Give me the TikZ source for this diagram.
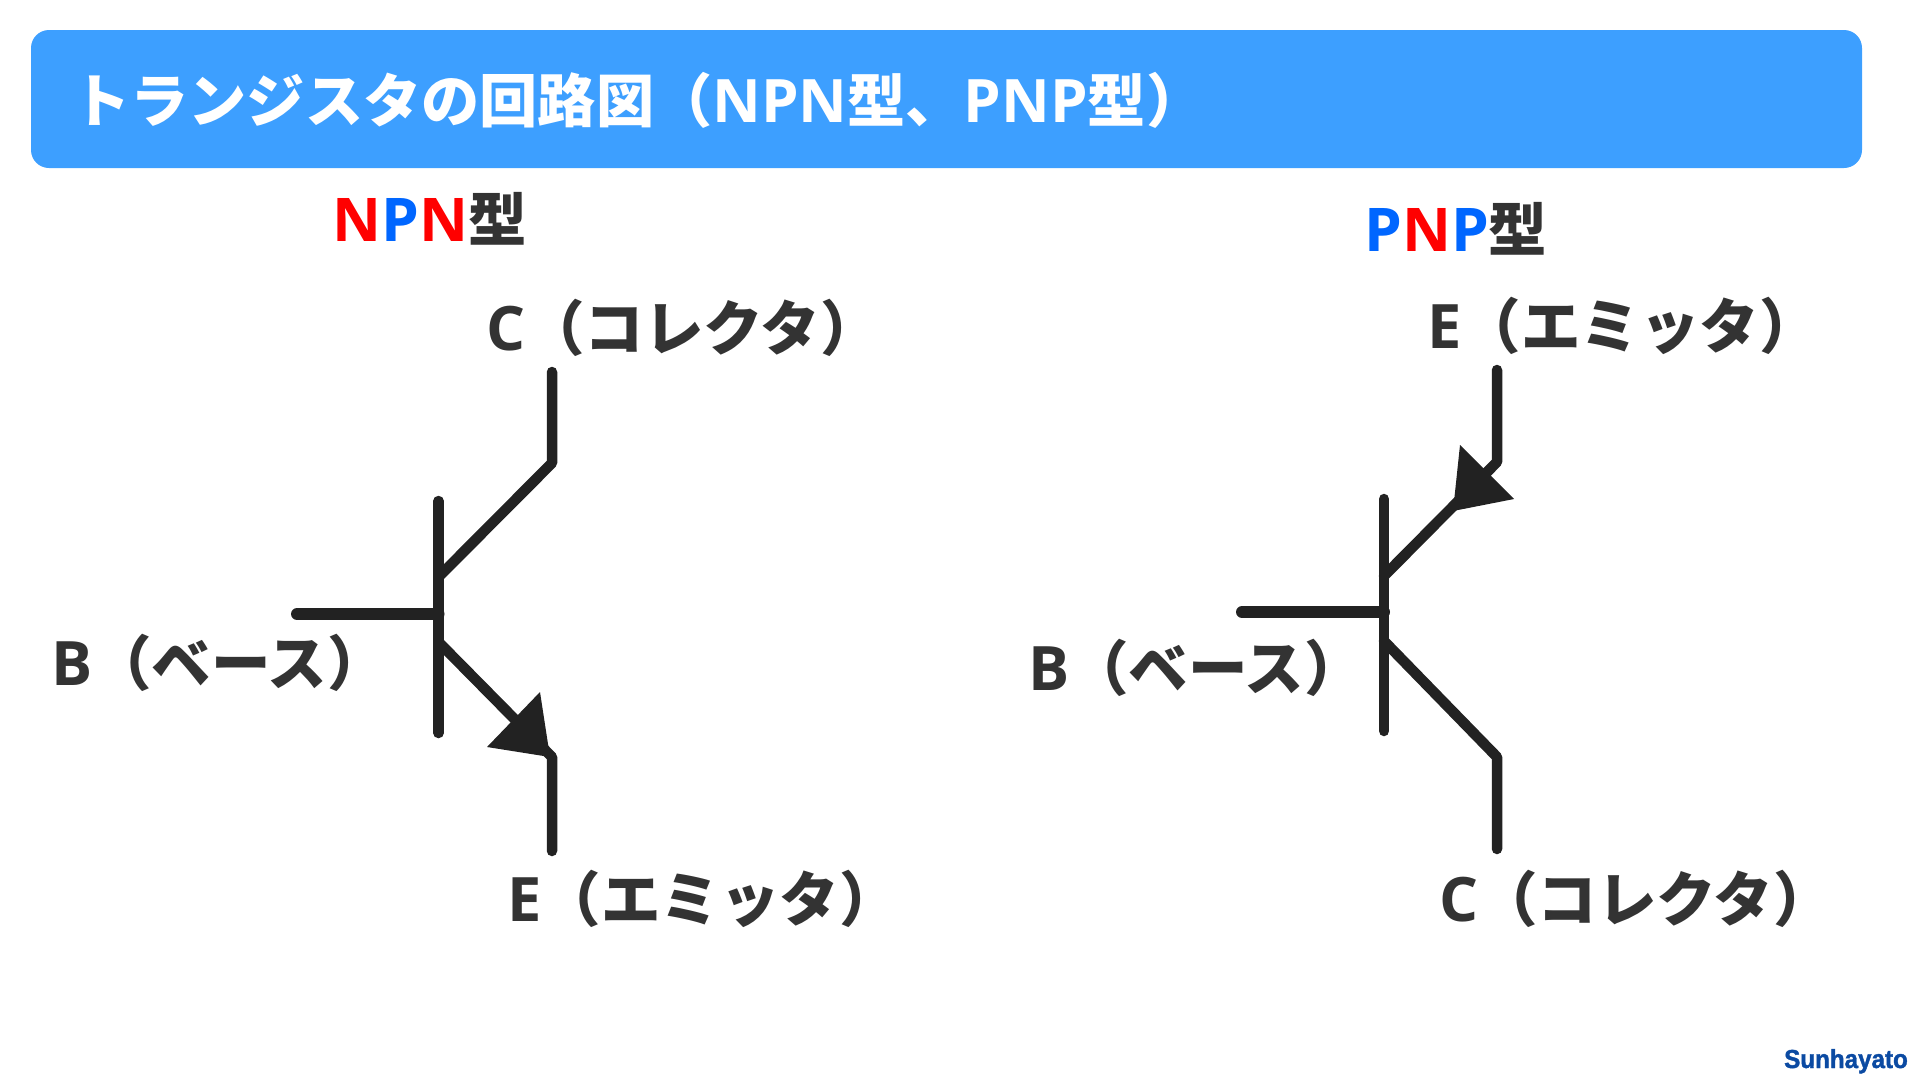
\documentclass[tikz,border=0pt]{standalone}
\usepackage{fontspec}
\setmainfont{Noto Sans CJK JP}
\newfontfamily\latfont{Open Sans}[Scale=1.03]
\newfontfamily\logofont{Liberation Sans}[BoldFeatures={FakeBold=1.6}]
\definecolor{bannerblue}{HTML}{3D9FFF}
\definecolor{textdark}{HTML}{333333}
\definecolor{wiredark}{HTML}{222222}
\definecolor{ntype}{HTML}{FF0000}
\definecolor{ptype}{HTML}{0066FF}
\definecolor{logoblue}{HTML}{0B4AA2}
\newcommand{\lat}[1]{{\latfont #1}}
\tikzset{
    wire/.style={line width=10.5pt, line cap=round, line join=round, wiredark},
    basewire/.style={wire, line width=12pt},
    termlabel/.style={anchor=base west, inner sep=0pt, text=textdark, font=\fontsize{59.5}{60}\selectfont\bfseries},
    titlelabel/.style={termlabel, text=white, font=\fontsize{58.2}{60}\selectfont\bfseries},
    namelabel/.style={termlabel, font=\fontsize{58.5}{60}\selectfont\bfseries},
}

\begin{document}
\begin{tikzpicture}[x=1pt, y=-1pt]
    \useasboundingbox (0,0) rectangle (1920,1080);
    \fill[bannerblue, rounded corners=18pt] (31,30) rectangle (1862,168);
    \node[titlelabel] (title) at (72,122) {トランジスタの回路図（\lat{NPN}型、\lat{PNP}型）};

    \node[namelabel] (npnname) at (332,241) {\lat{\textcolor{ntype}{N}\textcolor{ptype}{P}\textcolor{ntype}{N}}型};
    \node[namelabel] (pnpname) at (1364,251) {\lat{\textcolor{ptype}{P}\textcolor{ntype}{N}\textcolor{ptype}{P}}型};

    % NPN
    \coordinate (nbartop) at (438.5,501);
    \coordinate (nbarbot) at (438.5,733);
    \coordinate (nbase) at (297,614);
    \coordinate (nbasein) at (438.5,614);
    \coordinate (ncol) at (552,372);
    \coordinate (ncolk) at (552,463);
    \coordinate (ncolin) at (438.5,577);
    \coordinate (nemiin) at (438.5,642);
    \coordinate (nemik) at (552,757);
    \coordinate (nemi) at (552,851);
    \draw[wire] (nbartop) -- (nbarbot);
    \draw[basewire] (nbase) -- (nbasein);
    \draw[wire] (ncol) -- (ncolk) -- (ncolin);
    \draw[wire] (nemiin) -- (nemik) -- (nemi);
    \fill[wiredark] (540,692) -- (487,747) -- (550,757) -- cycle;

    % PNP
    \coordinate (pbartop) at (1384,499);
    \coordinate (pbarbot) at (1384,731);
    \coordinate (pbase) at (1242,612);
    \coordinate (pbasein) at (1384,612);
    \coordinate (pemi) at (1497,370);
    \coordinate (pemik) at (1497,462);
    \coordinate (pemiin) at (1384,576);
    \coordinate (pcolin) at (1384,641);
    \coordinate (pcolk) at (1497,757);
    \coordinate (pcol) at (1497,849);
    \draw[wire] (pbartop) -- (pbarbot);
    \draw[basewire] (pbase) -- (pbasein);
    \draw[wire] (pemi) -- (pemik) -- (pemiin);
    \draw[wire] (pcolin) -- (pcolk) -- (pcol);
    \fill[wiredark] (1460,445) -- (1514,499) -- (1453,511) -- cycle;

    \node[termlabel] (nclabel) at (486,350) {\lat{C}（コレクタ）};
    \node[termlabel] (nblabel) at (51,685) {\lat{B}（ベース）};
    \node[termlabel] (nelabel) at (507,921) {\lat{E}（エミッタ）};
    \node[termlabel] (pelabel) at (1427,348) {\lat{E}（エミッタ）};
    \node[termlabel] (pblabel) at (1028,690) {\lat{B}（ベース）};
    \node[termlabel] (pclabel) at (1439,921) {\lat{C}（コレクタ）};

    \node[anchor=base east, inner sep=0pt, text=logoblue, font=\logofont\fontsize{26}{28}\selectfont\bfseries] (logo) at (1908,1068) {\scalebox{0.93}[1]{Sunhayato}};
\end{tikzpicture}
\end{document}
